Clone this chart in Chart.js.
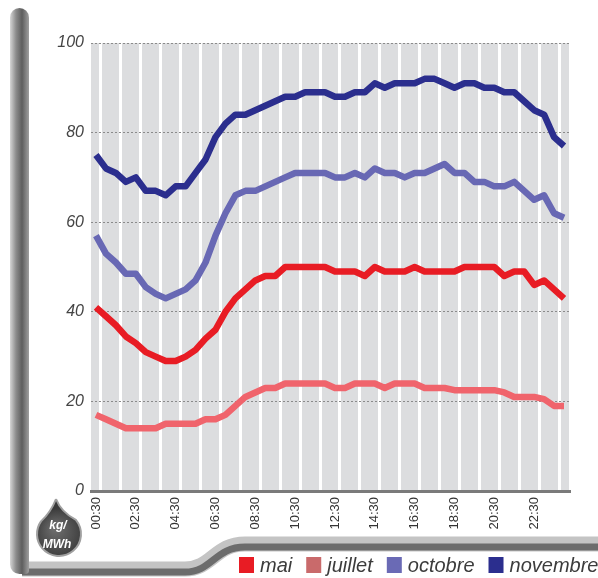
<!DOCTYPE html>
<html>
<head>
<meta charset="utf-8">
<script src="https://cdn.jsdelivr.net/npm/chart.js@4/dist/chart.umd.min.js"></script>
<style>
  html, body { margin: 0; padding: 0; background: #fff; }
</style>
</head>
<body>
<canvas id="graphique" width="598" height="578"></canvas>
<script>
// Heures (pas de 30 min)
const heures = [
    '00:30', '01:00', '01:30', '02:00', '02:30', '03:00', '03:30', '04:00',
    '04:30', '05:00', '05:30', '06:00', '06:30', '07:00', '07:30', '08:00',
    '08:30', '09:00', '09:30', '10:00', '10:30', '11:00', '11:30', '12:00',
    '12:30', '13:00', '13:30', '14:00', '14:30', '15:00', '15:30', '16:00',
    '16:30', '17:00', '17:30', '18:00', '18:30', '19:00', '19:30', '20:00',
    '20:30', '21:00', '21:30', '22:00', '22:30', '23:00', '23:30', '24:00'
];

// kg/MWh
const mai = [
    41, 39, 37, 34.5, 33, 31, 30, 29, 29, 30, 31.5, 34, 36, 40, 43, 45,
    47, 48, 48, 50, 50, 50, 50, 50, 49, 49, 49, 48, 50, 49, 49, 49,
    50, 49, 49, 49, 49, 50, 50, 50, 50, 48, 49, 49, 46, 47, 45, 43
];
const juillet = [
    17, 16, 15, 14, 14, 14, 14, 15, 15, 15, 15, 16, 16, 17, 19, 21,
    22, 23, 23, 24, 24, 24, 24, 24, 23, 23, 24, 24, 24, 23, 24, 24,
    24, 23, 23, 23, 22.5, 22.5, 22.5, 22.5, 22.5, 22, 21, 21, 21, 20.5, 19, 19
];
const octobre = [
    57, 53, 51, 48.5, 48.5, 45.5, 44, 43, 44, 45, 47, 51, 57, 62, 66, 67,
    67, 68, 69, 70, 71, 71, 71, 71, 70, 70, 71, 70, 72, 71, 71, 70,
    71, 71, 72, 73, 71, 71, 69, 69, 68, 68, 69, 67, 65, 66, 62, 61
];
const novembre = [
    75, 72, 71, 69, 70, 67, 67, 66, 68, 68, 71, 74, 79, 82, 84, 84,
    85, 86, 87, 88, 88, 89, 89, 89, 88, 88, 89, 89, 91, 90, 91, 91,
    91, 92, 92, 91, 90, 91, 91, 90, 90, 89, 89, 87, 85, 84, 79, 77
];

const couleursLignes = ['#e81c24', '#f0646c', '#6868b4', '#2b2e8e'];
const couleursLegende = ['#e81c24', '#c96a6b', '#6a6ab5', '#2b2e8e'];

// Cadre gris, goutte "kg/MWh" et légende
const cadrePlugin = {
    id: 'cadre',
    beforeDraw(chart) {
        const ctx = chart.ctx;
        const area = chart.chartArea;
        ctx.save();
        ctx.fillStyle = '#ffffff';
        ctx.fillRect(0, 0, chart.width, chart.height);

        // bande du bas
        ctx.lineJoin = 'round';
        ctx.beginPath();
        ctx.moveTo(22, 569);
        ctx.lineTo(185, 569);
        ctx.bezierCurveTo(212, 569, 215, 544, 245, 544);
        ctx.lineTo(600, 544);
        ctx.strokeStyle = '#c4c4c4';
        ctx.lineWidth = 15;
        ctx.stroke();
        ctx.beginPath();
        ctx.moveTo(22, 572);
        ctx.lineTo(185, 572);
        ctx.bezierCurveTo(212, 572, 215, 547, 245, 547);
        ctx.lineTo(600, 547);
        ctx.strokeStyle = '#6c6c6c';
        ctx.lineWidth = 7;
        ctx.stroke();

        // barre gauche
        const g = ctx.createLinearGradient(10, 0, 30, 0);
        g.addColorStop(0, '#d6d6d6');
        g.addColorStop(0.3, '#8c8c8c');
        g.addColorStop(0.6, '#5e5e5e');
        g.addColorStop(1, '#a9a9a9');
        ctx.fillStyle = g;
        ctx.beginPath();
        ctx.roundRect(10, 8, 19, 566, [10, 10, 4, 10]);
        ctx.fill();

        // fond du graphique
        ctx.fillStyle = '#dcdddf';
        ctx.fillRect(area.left, area.top, area.right - area.left, area.bottom - area.top);
        ctx.restore();
    },
    afterDraw(chart) {
        const ctx = chart.ctx;
        ctx.save();

        // goutte
        const cx = 59, cy = 534, r = 22;
        const a1 = -40 * Math.PI / 180, a2 = 215 * Math.PI / 180;
        ctx.beginPath();
        ctx.moveTo(56, 499);
        ctx.quadraticCurveTo(61, 512, cx + r * Math.cos(a1), cy + r * Math.sin(a1));
        ctx.arc(cx, cy, r, a1, a2, false);
        ctx.quadraticCurveTo(51, 512, 56, 499);
        const gg = ctx.createRadialGradient(cx - 4, cy - 6, 2, cx, cy, 26);
        gg.addColorStop(0, '#6c6c6c');
        gg.addColorStop(1, '#3a3a3a');
        ctx.fillStyle = gg;
        ctx.fill();
        ctx.strokeStyle = '#a0a0a0';
        ctx.lineWidth = 2;
        ctx.stroke();
        ctx.fillStyle = '#ffffff';
        ctx.textAlign = 'center';
        ctx.textBaseline = 'middle';
        ctx.font = 'italic bold 12px "Liberation Sans"';
        ctx.fillText('kg/', cx - 1, 526);
        ctx.fillText('MWh', cx - 2, 545);

        // légende
        ctx.font = 'italic 20px "Liberation Sans"';
        ctx.textAlign = 'left';
        ctx.textBaseline = 'alphabetic';
        let x = 239;
        chart.data.datasets.forEach((ds, i) => {
            ctx.fillStyle = couleursLegende[i];
            ctx.fillRect(x, 557, 15, 16);
            ctx.fillStyle = '#3c3c3c';
            ctx.fillText(ds.label, x + 21, 572);
            x += 21 + ctx.measureText(ds.label).width + 14;
        });
        ctx.restore();
    }
};

const series = [mai, juillet, octobre, novembre];
const noms = ['mai', 'juillet', 'octobre', 'novembre'];

new Chart(document.getElementById('graphique'), {
    type: 'line',
    data: {
        labels: heures,
        datasets: series.map((valeurs, i) => ({
            label: noms[i],
            data: valeurs,
            borderColor: couleursLignes[i],
            borderWidth: 6.5,
            borderJoinStyle: 'round',
            pointRadius: 0,
            tension: 0,
            fill: false
        }))
    },
    options: {
        responsive: false,
        animation: false,
        layout: {
            padding: { left: 40, right: 29, top: 43, bottom: 0 }
        },
        plugins: {
            legend: { display: false },
            tooltip: { enabled: false }
        },
        scales: {
            x: {
                offset: true,
                grid: {
                    offset: true,
                    drawTicks: false,
                    lineWidth: 3,
                    color: ctx => ctx.index % 2 === 1 ? '#ffffff' : 'rgba(0,0,0,0)'
                },
                border: { display: true, color: '#7a7a7a', width: 3 },
                ticks: {
                    autoSkip: false,
                    minRotation: 90,
                    maxRotation: 90,
                    padding: 6,
                    color: '#333333',
                    font: { family: 'Liberation Sans', size: 13 },
                    callback: function(val, i) {
                        return i % 4 === 0 ? this.getLabelForValue(val) : '';
                    }
                },
                afterFit: s => { s.height = 87; }
            },
            y: {
                min: 0,
                max: 100,
                grid: {
                    drawTicks: false,
                    lineWidth: 1,
                    color: ctx => ctx.tick && ctx.tick.value === 0 ? 'rgba(0,0,0,0)' : '#8a8a8a'
                },
                border: { display: false, dash: [2, 2] },
                ticks: {
                    stepSize: 20,
                    padding: 7,
                    color: '#444444',
                    font: { family: 'Liberation Sans', size: 16, style: 'italic' }
                },
                afterFit: s => { s.width = 51; }
            }
        }
    },
    plugins: [cadrePlugin]
});
</script>
</body>
</html>
